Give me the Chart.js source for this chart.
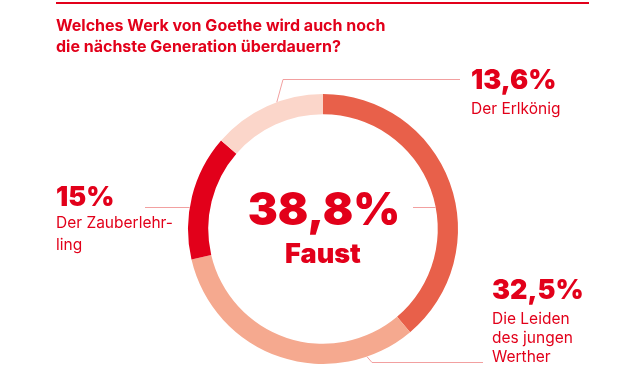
<!DOCTYPE html>
<html>
<head>
<meta charset="utf-8">
<script src="https://cdn.jsdelivr.net/npm/chart.js@4.4.1/dist/chart.umd.min.js"></script>
<style>
  html, body { margin: 0; padding: 0; background: #fff; }
</style>
</head>
<body>
<canvas id="goetheChart" width="630" height="370"></canvas>
<script>
// Umfrage: Welches Goethe-Werk überdauert?
const works = ['Faust', 'Die Leiden des jungen Werther', 'Der Zauberlehrling', 'Der Erlkönig'];
const shares = [38.8, 32.5, 15, 13.6];
const shareLabels = ['38,8%', '32,5%', '15%', '13,6%'];
const workLines = [['Faust'], ['Die Leiden', 'des jungen', 'Werther'], ['Der Zauberlehr-', 'ling'], ['Der Erlkönig']];
const ringColors = ['#e8604a', '#f5a98f', '#e2001a', '#fbd6ca'];

const RED = '#e2001a';
const LEADER = '#f2a0a0';
const FONT = 'Inter, Roboto, sans-serif';

const labelsPlugin = {
    id: 'goetheLabels',
    afterDraw(chart) {
        const ctx = chart.ctx;
        const arc = chart.getDatasetMeta(0).data[0];
        const cx = arc.x, cy = arc.y;
        const outerR = arc.outerRadius, innerR = arc.innerRadius;
        const onRing = (deg, r) => {
            const a = (deg - 90) * Math.PI / 180;
            return [cx + r * Math.cos(a), cy + r * Math.sin(a)];
        };

        ctx.save();
        // rote Linie oben
        ctx.fillStyle = RED;
        ctx.fillRect(56, 2, 533, 2);

        // Titel
        ctx.font = 'bold 16px ' + FONT;
        ctx.textBaseline = 'alphabetic';
        ctx.textAlign = 'left';
        ctx.fillText('Welches Werk von Goethe wird auch noch', 56, 31);
        ctx.fillText('die nächste Generation überdauern?', 56, 52);

        // Hinweislinien
        ctx.strokeStyle = LEADER;
        ctx.lineWidth = 1;
        let p;
        // Erlkönig
        p = onRing(340, outerR);
        ctx.beginPath();
        ctx.moveTo(p[0], p[1]);
        ctx.lineTo(283, 79.5);
        ctx.lineTo(460, 79.5);
        ctx.stroke();
        // Zauberlehrling
        ctx.beginPath();
        ctx.moveTo(145, 207.5);
        ctx.lineTo(cx - Math.sqrt(outerR * outerR - (207.5 - cy) ** 2), 207.5);
        ctx.stroke();
        // Faust
        ctx.beginPath();
        ctx.moveTo(413, 207.5);
        ctx.lineTo(cx + Math.sqrt(innerR * innerR - (207.5 - cy) ** 2), 207.5);
        ctx.stroke();
        // Werther
        p = onRing(161, outerR);
        ctx.beginPath();
        ctx.moveTo(p[0], p[1]);
        ctx.lineTo(372, 362.5);
        ctx.lineTo(483, 362.5);
        ctx.stroke();

        // Mitte: Faust
        ctx.fillStyle = RED;
        ctx.textAlign = 'center';
        ctx.font = '900 45px ' + FONT;
        ctx.fillText(shareLabels[0], cx + 1, 225);
        ctx.font = '900 27px ' + FONT;
        ctx.fillText(workLines[0][0], cx, 263);

        // Außenbeschriftungen
        ctx.textAlign = 'left';
        const outside = [
            { i: 3, x: 471, y: 89, lines: [114] },
            { i: 2, x: 56, y: 206, lines: [228, 250] },
            { i: 1, x: 492, y: 299, lines: [324, 343, 362] }
        ];
        outside.forEach(o => {
            ctx.font = '900 27px ' + FONT;
            ctx.fillText(shareLabels[o.i], o.x, o.y);
            ctx.font = '15.5px ' + FONT;
            workLines[o.i].forEach((t, k) => ctx.fillText(t, o.x, o.lines[k]));
        });
        ctx.restore();
    }
};

const chart = new Chart(document.getElementById('goetheChart'), {
    type: 'doughnut',
    data: {
        labels: works,
        datasets: [{
            data: shares,
            backgroundColor: ringColors,
            borderWidth: 0
        }]
    },
    options: {
        responsive: false,
        animation: false,
        cutout: '85%',
        layout: { padding: { top: 94, bottom: 6, left: 188, right: 172 } },
        plugins: {
            legend: { display: false },
            tooltip: { enabled: false }
        }
    },
    plugins: [labelsPlugin]
});
</script>
</body>
</html>
